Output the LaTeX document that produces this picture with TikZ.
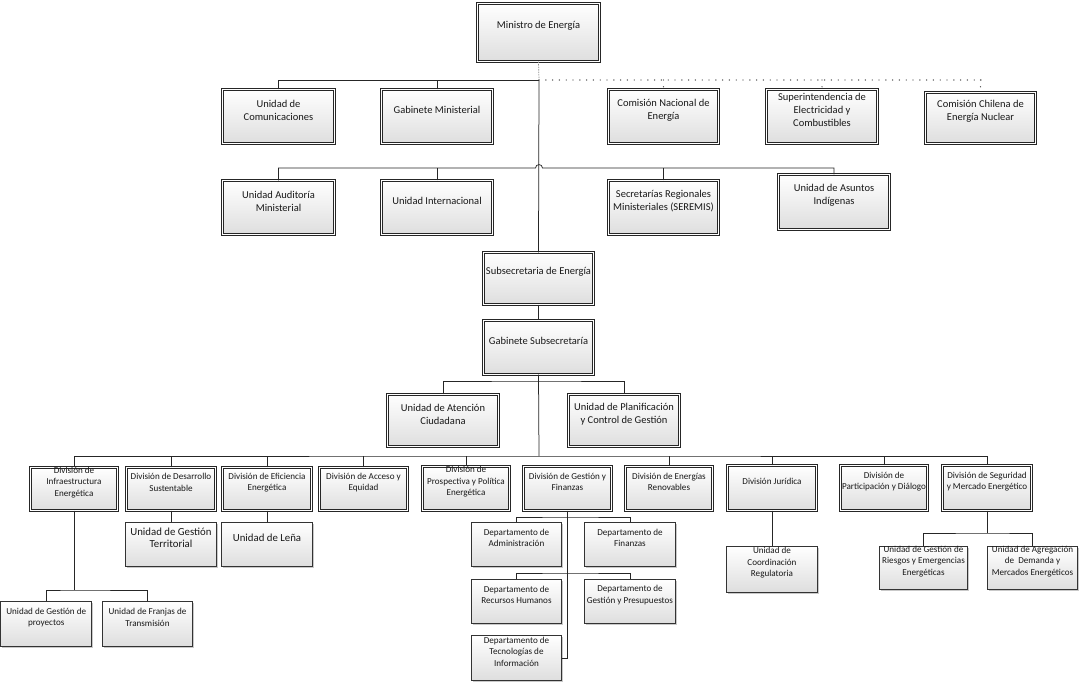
\documentclass[tikz,border=0pt]{standalone}
\usepackage{fontspec}
\setmainfont{Carlito}
\usetikzlibrary{shadows}
\tikzset{
  boxbase/.style={top color=white, bottom color=black!13, inner sep=0pt, outer sep=0pt,
    drop shadow={shadow xshift=1.6pt, shadow yshift=-1.6pt, opacity=0.35, fill=black!60}},
  dbox/.style={boxbase, draw=black!85, line width=0.55pt, double=white, double distance=1.5pt},
  sbox/.style={boxbase, draw=black!80, line width=0.6pt},
  lbl/.style={align=center, inner sep=0pt, text=black!90, font=\fontsize{10.5}{13}\selectfont},
  slbl/.style={align=center, inner sep=0pt, text=black!90, font=\fontsize{9.1}{11.4}\selectfont},
  mlbl/.style={align=center, inner sep=0pt, text=black!90, font=\fontsize{10.8}{12.5}\selectfont},
  conn/.style={draw=black!85, line width=0.75pt},
  dotline/.style={draw=black!75, line width=1.4pt, line cap=round, dash pattern=on 0pt off 6.8pt},
  dotgray/.style={draw=black!45, line width=0.7pt, dash pattern=on 1.5pt off 1pt},
}
% #1 box style, #2 name, #3 x1, #4 y1, #5 x2, #6 y2, #7 label style, #8 text
\newcommand\dbx[8]{%
  \node[#1, minimum width={#5pt-#3pt-2.6pt}, minimum height={#6pt-#4pt-2.6pt}]
    (#2) at ({(#3+#5)/2},{(#4+#6)/2}) {};
  \node[#7] (#2t) at ([yshift=6.5pt]#2.center) {#8};}
\newcommand\sbx[8]{%
  \node[#1, minimum width={#5pt-#3pt-0.6pt}, minimum height={#6pt-#4pt-0.6pt}]
    (#2) at ({(#3+#5)/2},{(#4+#6)/2}) {};
  \node[#7] (#2t) at ([yshift=6.5pt]#2.center) {#8};}
\begin{document}
\begin{tikzpicture}[x=1pt,y=-1pt]
\useasboundingbox[fill=white] (0,0) rectangle (1080,684);

% ---- top level
\dbx{dbox}{min}{476}{2}{601}{63}{lbl}{Ministro de Energía}
% row 1
\dbx{dbox}{ucom}{221}{88}{336}{145}{lbl}{Unidad de\\Comunicaciones}
\dbx{dbox}{gmin}{380}{88}{494}{145}{lbl}{Gabinete Ministerial}
\dbx{dbox}{cne}{607}{88}{720}{145}{lbl}{Comisión Nacional de\\Energía}
\dbx{dbox}{sec}{765}{88}{879}{145}{lbl}{Superintendencia de\\Electricidad y\\Combustibles}
\dbx{dbox}{cch}{924}{91}{1037}{145}{lbl}{Comisión Chilena de\\Energía Nuclear}
% row 2
\dbx{dbox}{uaud}{221}{179}{336}{236}{lbl}{Unidad Auditoría\\Ministerial}
\dbx{dbox}{uint}{380}{179}{494}{236}{lbl}{Unidad Internacional}
\dbx{dbox}{sere}{607}{179}{720}{236}{lbl}{Secretarías Regionales\\Ministeriales (SEREMIS)}
\dbx{dbox}{uasu}{777}{173}{891}{231}{lbl}{Unidad de Asuntos\\Indígenas}
% subsecretaria
\dbx{dbox}{sub}{482}{251}{595}{306}{lbl}{Subsecretaria de Energía}
\dbx{dbox}{gsub}{482}{319}{595}{376}{lbl}{Gabinete Subsecretaría}
\dbx{dbox}{uate}{386}{393}{500}{448}{lbl}{Unidad de Atención\\Ciudadana}
\dbx{dbox}{upla}{567}{393}{681}{448}{lbl}{Unidad de Planificación\\y Control de Gestión}
% divisions
\dbx{dbox}{dinf}{29}{466}{119}{512}{slbl}{División de\\Infraestructura\\Energética}
\dbx{dbox}{ddes}{125}{466}{217}{512}{slbl}{División de Desarrollo\\Sustentable}
\dbx{dbox}{deff}{221}{466}{313}{512}{slbl}{División de Eficiencia\\Energética}
\dbx{dbox}{dacc}{318}{466}{409}{512}{slbl}{División de Acceso y\\Equidad}
\dbx{dbox}{dpro}{421}{465}{511}{512}{slbl}{División de\\Prospectiva y Política\\Energética}
\dbx{dbox}{dgf}{522}{465}{613}{512}{slbl}{División de Gestión y\\Finanzas}
\dbx{dbox}{dren}{624}{465}{714}{512}{slbl}{División de Energías\\Renovables}
\dbx{dbox}{djur}{726}{464}{818}{512}{slbl}{División Jurídica}
\dbx{dbox}{dpar}{839}{464}{929}{512}{slbl}{División de\\Participación y Diálogo}
\dbx{dbox}{dseg}{941}{464}{1033}{512}{slbl}{División de Seguridad\\y Mercado Energético}
% units below divisions
\sbx{sbox}{ugt}{125}{522}{217}{567}{mlbl}{Unidad de Gestión\\Territorial}
\sbx{sbox}{ulen}{221}{522}{313}{567}{mlbl}{Unidad de Leña}
\sbx{sbox}{ugp}{0.5}{601}{92}{647}{slbl}{Unidad de Gestión de\\proyectos}
\sbx{sbox}{ufr}{102}{601}{193}{647}{slbl}{Unidad de Franjas de\\Transmisión}
\sbx{sbox}{dadm}{471}{522}{562}{567}{slbl}{Departamento de\\Administración}
\sbx{sbox}{dfin}{584}{522}{676}{567}{slbl}{Departamento de\\Finanzas}
\sbx{sbox}{drh}{471}{579}{562}{624}{slbl}{Departamento de\\Recursos Humanos}
\sbx{sbox}{dgp}{584}{579}{676}{624}{slbl}{Departamento de\\Gestión y Presupuestos}
\sbx{sbox}{dti}{471}{635}{562}{681}{slbl}{Departamento de\\Tecnologías de\\Información}
\sbx{sbox}{ucr}{726}{546}{818}{593}{slbl}{Unidad de\\Coordinación\\Regulatoria}
\sbx{sbox}{ugr}{879}{546}{968}{590}{slbl}{Unidad de Gestión de\\Riesgos y Emergencias\\Energéticas}
\sbx{sbox}{uag}{987}{546}{1078}{590}{slbl}{Unidad de Agregación\\de \ Demanda y\\Mercados Energéticos}

% ---- junctions
\coordinate (j1) at (539,80);
\coordinate (jend) at (982,80);
\coordinate (j2) at (539,168);
\coordinate (j2a) at (535.5,168);
\coordinate (j2b) at (542.5,168);
\coordinate (j3) at (539,381);
\coordinate (j4) at (539,456);
\coordinate (jinf) at (74,590);
\coordinate (jg1) at (567.5,517);
\coordinate (jg2) at (567.5,573);
\coordinate (jseg) at (987,533);

% ---- connectors
\draw[dotgray] (min.south) -- (j1);
\draw[conn] (ucom.north) |- (j1);
\draw[conn] (gmin.north) -- (gmin.north |- j1);
\draw[dotline] (j1) -- (jend);
\draw[dotline] (cne.north |- j1) -- (cne.north);
\draw[dotline] (sec.north |- j1) -- (sec.north);
\draw[dotline] (cch.north |- j1) -- (cch.north);

\draw[conn] (uaud.north) |- (j2a) .. controls (535.5,163.5) and (542.5,163.5) .. (j2b) -| (uasu.north);
\draw[conn] (uint.north) -- (uint.north |- j2);
\draw[conn] (sere.north) -- (sere.north |- j2);
\draw[conn] (j1) -- (sub.north);
\draw[conn] (sub.south) -- (gsub.north);
\draw[conn] (gsub.south) -- (j4);
\draw[conn] (uate.north) |- (j3) -| (upla.north);

\draw[conn] (dinf.north) |- (j4) -| (dseg.north);
\foreach \d in {ddes,deff,dacc,dpro,dren,djur,dpar}
  \draw[conn] (\d.north) -- (\d.north |- j4);

\draw[conn] (ddes.south) -- (ugt.north);
\draw[conn] (deff.south) -- (ulen.north);
\draw[conn] (dinf.south) -- (jinf);
\draw[conn] (ugp.north) |- (jinf) -| (ufr.north);
\draw[conn] (dgf.south) |- (dti.east);
\draw[conn] (dadm.north) |- (jg1) -| (dfin.north);
\draw[conn] (drh.north) |- (jg2) -| (dgp.north);
\draw[conn] (djur.south) -- (ucr.north);
\draw[conn] (dseg.south) -- (jseg);
\draw[conn] (ugr.north) |- (jseg) -| (uag.north);
\end{tikzpicture}
\end{document}
